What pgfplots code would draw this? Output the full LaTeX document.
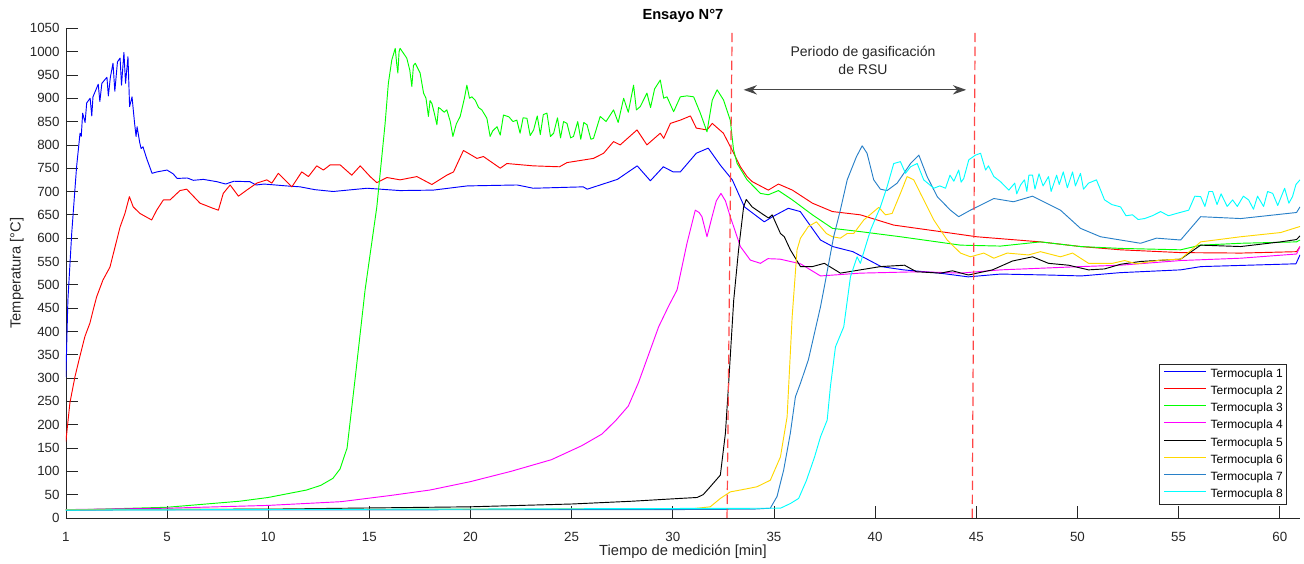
\documentclass[border=0pt]{standalone}
\usepackage{fontspec}
\setmainfont{Liberation Sans}
\usepackage{pgfplots}
\pgfplotsset{compat=1.18}
\usetikzlibrary{arrows.meta}
\definecolor{axgray}{RGB}{38,38,38}
\definecolor{cTa}{RGB}{0,0,255}
\definecolor{cTb}{RGB}{255,0,0}
\definecolor{cTc}{RGB}{0,255,0}
\definecolor{cTd}{RGB}{255,0,255}
\definecolor{cTe}{RGB}{0,0,0}
\definecolor{cTf}{RGB}{255,215,0}
\definecolor{cTg}{RGB}{40,128,200}
\definecolor{cTh}{RGB}{0,255,255}
\definecolor{dashred}{RGB}{255,70,70}
\begin{document}
\begin{tikzpicture}
\begin{axis}[
 scale only axis, width=925.6pt, height=367.3pt,
 xmin=0, xmax=61, ymin=0, ymax=1050,
 axis lines=left, axis line style={-, draw=axgray, line width=0.5pt},
 tick align=inside, major tick length=9pt, tick style={axgray, line width=0.5pt},
 xtick={0,5,10,15,20,25,30,35,40,45,50,55,60},
 xticklabels={1,5,10,15,20,25,30,35,40,45,50,55,60},
 ytick={0,50,...,1050},
 /pgf/number format/1000 sep={}, /pgf/number format/assume math mode=true,
 ticklabel style={font=\fontsize{10}{12}\selectfont, text=axgray},
 xticklabel style={yshift=-7.2pt},
 yticklabel style={xshift=-1.2pt},
 xlabel={Tiempo de medición [min]}, ylabel={Temperatura [°C]},
 label style={font=\fontsize{11}{13}\selectfont, text=axgray},
 xlabel style={at={(axis description cs:0.5,-0.0694)}, anchor=center},
 ylabel style={at={(axis description cs:-0.0397,0.5)}, anchor=center},
 title={Ensayo N°7},
 every axis title shift=0pt,
 title style={font=\bfseries\fontsize{11}{13}\selectfont, at={(axis description cs:0.5,1.025)}, anchor=center},
 legend style={at={(axis description cs:0.9895,0.0265)}, anchor=south east, draw=axgray, line width=0.5pt, fill=white,
   font=\fontsize{9}{10}\selectfont, inner xsep=3pt, inner ysep=3.25pt, row sep=4.4pt, column sep=3pt,
   nodes={inner xsep=0pt, inner ysep=0pt, text height=6.5pt, text depth=2pt}},
 legend cell align=left,
 legend image code/.code={\draw[#1] (0pt,2.3pt) -- (31.5pt,2.3pt);},
 every axis plot/.append style={line width=0.7pt, line join=round},
]
\addplot[cTa] coordinates {(0,302)(0.1,467)(0.29,611)(0.53,753)(0.7,825)(0.76,818)(0.83,868)(0.95,848)(1.03,890)(1.2,900)(1.28,862)(1.34,903)(1.6,930)(1.68,893)(1.78,932)(2.03,945)(2.1,905)(2.2,945)(2.33,975)(2.42,915)(2.55,978)(2.68,986)(2.75,928)(2.87,998)(2.95,932)(3.07,989)(3.15,882)(3.27,903)(3.4,845)(3.47,818)(3.52,839)(3.65,805)(3.72,792)(3.81,796)(4.0,770)(4.26,739)(4.5,742)(5.0,746)(5.3,738)(5.5,728)(6.0,729)(6.3,724)(6.8,726)(7.47,721)(7.9,716)(8.3,722)(9.1,721)(9.4,714)(9.8,716)(10.9,712)(11.58,710)(12.3,704)(13.21,700)(14.89,707)(16.52,702)(18.16,703)(19.84,712)(22.31,714)(23.1,707)(25.57,710)(25.77,705)(27.26,726)(28.24,755)(28.89,723)(29.53,753)(30.02,742)(30.37,742)(31.16,782)(31.75,793)(32.34,757)(32.94,725)(33.54,667)(34.52,635)(34.93,646)(35.71,664)(36.3,657)(37.3,596)(37.9,582)(38.9,571)(40.3,539)(41.4,532)(43.2,525)(44.6,517)(46.2,523)(48.5,521)(50.2,519)(52.1,526)(55.1,532)(56.1,539)(60.8,545)(61,564)};
\addlegendentry{Termocupla 1}
\addplot[cTb] coordinates {(0,164)(0.2,247)(0.45,303)(0.69,346)(0.94,389)(1.19,418)(1.35,446)(1.52,474)(1.83,510)(2.18,538)(2.43,581)(2.68,624)(2.92,653)(3.14,689)(3.33,667)(3.66,653)(4.24,639)(4.49,660)(4.82,682)(5.15,682)(5.64,702)(5.97,705)(6.63,675)(7.27,664)(7.54,660)(7.78,696)(8.12,714)(8.53,690)(8.94,703)(9.44,718)(9.93,725)(10.18,718)(10.5,739)(10.75,728)(11.17,710)(11.66,742)(11.99,732)(12.4,755)(12.73,746)(13.06,757)(13.56,757)(14.13,735)(14.55,755)(15.04,732)(15.37,719)(15.87,730)(16.52,725)(17.35,732)(18.09,715)(18.83,735)(19.16,742)(19.65,788)(20.32,771)(20.64,775)(21.47,750)(21.8,760)(23.1,755)(24.4,753)(24.77,762)(26.08,771)(26.58,782)(27.07,807)(27.4,800)(28.23,832)(28.72,800)(29.38,825)(29.55,814)(29.88,846)(30.37,853)(30.87,862)(31.16,836)(31.69,832)(31.95,846)(32.5,825)(33.01,782)(33.34,753)(33.67,732)(33.93,721)(34.72,703)(35.22,716)(35.91,703)(36.9,675)(37.89,657)(39.27,650)(40.92,628)(43.23,614)(45.01,603)(48.17,592)(50.15,582)(52.13,575)(55.1,569)(58.07,568)(60.83,571)(61,582)};
\addlegendentry{Termocupla 2}
\addplot[cTc] coordinates {(0,17)(5,23)(8.6,36)(10,44)(11.9,60)(12.6,70)(13.2,85)(13.55,105)(13.9,150)(14.3,300)(14.79,489)(15.37,667)(15.78,846)(15.94,932)(16.11,982)(16.28,1007)(16.35,975)(16.41,954)(16.47,1000)(16.52,1007)(16.85,986)(17.0,960)(17.1,925)(17.18,970)(17.27,975)(17.51,954)(17.68,911)(17.8,900)(17.92,861)(18.0,895)(18.09,889)(18.2,870)(18.34,843)(18.42,880)(18.5,878)(18.7,870)(18.83,875)(19.0,850)(19.13,818)(19.3,845)(19.49,861)(19.7,900)(19.82,928)(19.95,900)(20.07,903)(20.23,896)(20.4,880)(20.56,875)(20.81,857)(20.97,818)(21.1,830)(21.31,839)(21.47,821)(21.63,864)(21.9,860)(22.1,850)(22.29,853)(22.45,825)(22.6,858)(22.79,857)(22.95,820)(23.12,832)(23.3,862)(23.45,822)(23.6,865)(23.78,868)(23.95,818)(24.11,825)(24.3,858)(24.45,815)(24.6,850)(24.77,846)(24.95,815)(25.09,818)(25.3,850)(25.45,812)(25.6,848)(25.76,843)(25.95,812)(26.08,814)(26.41,861)(26.7,850)(27.07,875)(27.3,848)(27.57,900)(27.8,870)(28.06,928)(28.2,875)(28.39,882)(28.72,911)(28.9,880)(29.1,920)(29.38,939)(29.55,900)(29.71,903)(30.04,871)(30.37,903)(30.7,905)(31.03,903)(31.36,868)(31.69,828)(31.95,896)(32.19,918)(32.51,896)(32.84,853)(33.0,790)(33.18,760)(33.67,725)(34.33,696)(34.72,693)(35.22,702)(35.91,682)(36.9,650)(37.89,621)(39.27,614)(41.25,603)(44.22,585)(46.2,583)(48.17,592)(50.15,582)(52.13,578)(55.1,575)(56.09,585)(58.07,589)(60.83,592)(61,596)};
\addlegendentry{Termocupla 3}
\addplot[cTd] coordinates {(0,18)(5,21)(10,27)(13.6,35)(16,48)(18,60)(20,78)(22,100)(24,125)(25.5,155)(26.5,180)(27.2,210)(27.8,240)(28.3,290)(28.8,350)(29.3,410)(29.8,455)(30.21,489)(30.7,589)(31.11,660)(31.3,655)(31.44,646)(31.69,603)(31.94,646)(32.15,680)(32.38,696)(32.6,680)(32.84,646)(33.34,582)(33.83,553)(34.33,546)(34.7,556)(35.3,555)(36.31,545)(37.3,519)(38.3,522)(39.27,525)(42.24,528)(44.22,525)(46.2,532)(50.15,539)(52.13,542)(55.1,552)(58.07,557)(60.83,566)(61,582)};
\addlegendentry{Termocupla 4}
\addplot[cTe] coordinates {(0,18)(10,19)(20,24)(25,30)(28,36)(30.37,42)(31.2,44)(31.5,50)(31.85,67)(32.35,92)(32.6,182)(32.76,289)(33.01,467)(33.25,575)(33.5,667)(33.63,683)(33.92,667)(34.49,650)(34.74,643)(34.91,650)(35.32,610)(35.51,603)(35.81,575)(36.31,539)(36.9,539)(37.49,546)(38.28,525)(39.27,532)(40.26,539)(41.45,542)(42.04,528)(43.23,525)(43.82,530)(44.61,521)(45.8,532)(46.79,551)(47.78,560)(48.57,546)(49.56,542)(50.55,532)(51.34,534)(52.13,544)(53.12,550)(55.1,555)(56.09,585)(58.07,582)(60.04,592)(60.83,597)(61,605)};
\addlegendentry{Termocupla 5}
\addplot[cTf] coordinates {(0,18)(20,19)(31,20)(31.85,24)(32.35,42)(32.84,56)(33.34,60)(33.7,63)(34.16,67)(34.82,81)(35.32,131)(35.65,217)(35.9,432)(36.14,575)(36.31,600)(36.7,625)(37.1,635)(37.59,610)(37.89,603)(38.28,600)(38.62,610)(38.94,610)(39.44,639)(40.18,666)(40.51,650)(40.84,653)(41.25,696)(41.58,732)(41.91,725)(42.24,696)(42.9,639)(43.56,596)(44.22,568)(44.71,560)(45.37,568)(45.87,557)(46.53,568)(47.58,564)(48.17,571)(49.16,560)(49.76,568)(50.55,546)(51.73,546)(52.33,552)(52.92,545)(54.11,553)(55.1,555)(56.09,592)(58.07,603)(60.04,612)(61,625)};
\addlegendentry{Termocupla 6}
\addplot[cTg] coordinates {(0,17)(30,18)(34.0,19)(34.82,21)(35.15,46)(35.48,103)(35.81,182)(36.06,260)(36.31,289)(36.7,339)(37.3,453)(37.49,496)(37.95,603)(38.28,660)(38.62,725)(39.08,775)(39.36,798)(39.6,782)(39.93,725)(40.26,705)(40.59,702)(41.09,718)(41.75,760)(42.16,778)(42.57,732)(43.07,689)(43.72,660)(44.13,646)(44.71,660)(45.87,685)(46.84,678)(47.78,690)(49.16,660)(50.15,621)(51.14,603)(52.13,596)(53.12,589)(53.91,600)(55.1,596)(56.09,646)(58.07,642)(60.83,655)(61,667)};
\addlegendentry{Termocupla 7}
\addplot[cTh] coordinates {(0,17)(35.32,21)(35.81,31)(36.22,42)(36.6,80)(37.0,130)(37.3,174)(37.63,210)(37.79,282)(38.04,367)(38.45,410)(38.78,517)(39.11,560)(39.27,546)(39.77,617)(40.26,667)(40.59,710)(40.92,760)(41.25,764)(41.5,739)(41.75,753)(42.08,760)(42.4,725)(42.9,707)(43.2,712)(43.48,707)(43.7,735)(43.89,722)(44.13,746)(44.25,720)(44.38,728)(44.63,768)(44.96,778)(45.21,782)(45.46,746)(45.6,755)(45.87,732)(46.2,721)(46.61,703)(46.9,718)(47.0,695)(47.19,714)(47.38,725)(47.5,700)(47.6,735)(47.78,735)(47.9,705)(48.1,738)(48.3,712)(48.57,732)(48.7,700)(48.97,735)(49.1,715)(49.3,742)(49.5,708)(49.76,742)(49.9,712)(50.15,739)(50.3,705)(50.55,718)(50.94,725)(51.34,682)(51.7,672)(52.13,667)(52.4,648)(52.72,650)(53.0,640)(53.32,642)(53.7,648)(54.11,657)(54.5,648)(54.9,653)(55.5,660)(55.8,690)(56.09,689)(56.3,668)(56.5,700)(56.68,700)(56.9,672)(57.1,695)(57.4,668)(57.67,682)(57.9,668)(58.2,690)(58.46,682)(58.7,662)(58.9,690)(59.2,668)(59.4,700)(59.65,696)(59.9,670)(60.24,707)(60.45,675)(60.63,689)(60.8,715)(61,725)};
\addlegendentry{Termocupla 8}
\addplot[dashred, line width=0.9pt, dash pattern=on 7pt off 3.5pt, forget plot] coordinates {(32.68,0)(32.93,1040)};
\addplot[dashred, line width=0.9pt, dash pattern=on 7pt off 3.5pt, forget plot] coordinates {(44.80,0)(44.94,1040)};
\draw[{Stealth[length=10pt,width=7pt]}-{Stealth[length=10pt,width=7pt]}, draw={rgb,255:red,70;green,70;blue,70}, fill=black, line width=0.8pt] (axis cs:33.5,918) -- (axis cs:44.5,918);
\node[align=center, font=\fontsize{10.5}{13.5}\selectfont, text=axgray] at (axis cs:39.4,980) {Periodo de gasificación\\de RSU};
\end{axis}
\pgfresetboundingbox
\path[use as bounding box] (-49.4pt,-34.5pt) rectangle (928.6pt,388.5pt);
\end{tikzpicture}
\end{document}
